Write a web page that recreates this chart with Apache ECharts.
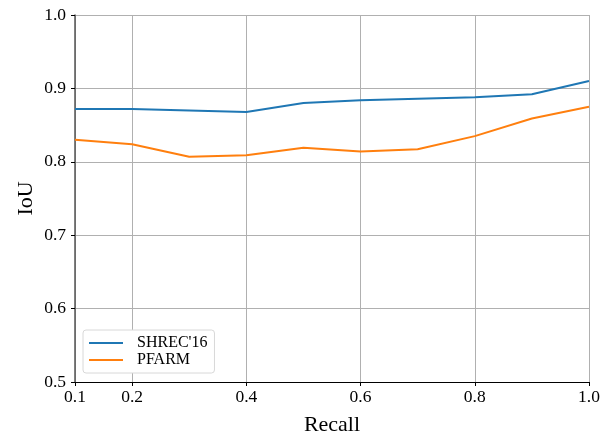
<!DOCTYPE html>
<html>
<head>
<meta charset="utf-8">
<script src="https://cdn.jsdelivr.net/npm/echarts@6/dist/echarts.min.js"></script>
<style>
  html, body { margin: 0; padding: 0; background: #fff; }
  #main { width: 614px; height: 438px; }
</style>
</head>
<body>
<div id="main"></div>
<script>
var recall = [0.1, 0.2, 0.3, 0.4, 0.5, 0.6, 0.7, 0.8, 0.9, 1.0];
var shrec = [0.872, 0.872, 0.870, 0.868, 0.880, 0.884, 0.886, 0.888, 0.892, 0.910];
var pfarm = [0.830, 0.824, 0.807, 0.809, 0.819, 0.814, 0.817, 0.835, 0.859, 0.875];
var xTicks = [0.1, 0.2, 0.4, 0.6, 0.8, 1.0];

function pairs(xs, ys) {
  var res = [];
  for (var i = 0; i < xs.length; i++) {
    res.push([xs[i], ys[i]]);
  }
  return res;
}

var font = "'Liberation Serif', 'Times New Roman', serif";
var myChart = echarts.init(document.getElementById("main"));
myChart.setOption({
  animation: false,
  textStyle: { fontFamily: font },
  grid: { left: 75, right: 25, top: 15, bottom: 56, outerBoundsMode: "none", containLabel: false },
  legend: {
    orient: "vertical",
    left: 83,
    top: 330,
    itemWidth: 34,
    itemHeight: 2,
    itemGap: 1,
    padding: [5, 7, 5, 6],
    backgroundColor: "#fff",
    borderColor: "#d8d8d8",
    borderWidth: 1,
    borderRadius: 3,
    textStyle: { fontFamily: font, fontSize: 16, color: "#000", padding: [0, 0, 0, 9] },
    data: [
      { name: "SHREC'16", icon: "rect" },
      { name: "PFARM", icon: "rect" }
    ]
  },
  xAxis: {
    type: "value",
    min: 0.1,
    max: 1.0,
    name: "Recall",
    nameLocation: "middle",
    nameGap: 32,
    nameTextStyle: { fontFamily: font, fontSize: 22, color: "#000" },
    axisLine: { lineStyle: { color: "#000", width: 1.2 } },
    axisTick: { customValues: xTicks, length: 4, inside: false, lineStyle: { color: "#000" } },
    axisLabel: {
      customValues: xTicks,
      fontFamily: font,
      fontSize: 17.5,
      color: "#000",
      margin: 6,
      formatter: function (v) { return v.toFixed(1); }
    },
    splitLine: { show: true, lineStyle: { color: "#b0b0b0", width: 1 } }
  },
  yAxis: {
    type: "value",
    min: 0.5,
    max: 1.0,
    interval: 0.1,
    name: "IoU",
    nameLocation: "middle",
    nameGap: 38,
    nameMoveOverlap: false,
    nameTextStyle: { fontFamily: font, fontSize: 22, color: "#000" },
    axisLine: { show: true, lineStyle: { color: "#555", width: 1.5 } },
    axisTick: { show: true, length: 4, lineStyle: { color: "#000" } },
    axisLabel: {
      fontFamily: font,
      fontSize: 17.5,
      color: "#000",
      margin: 9,
      formatter: function (v) { return v.toFixed(1); }
    },
    splitLine: { show: true, lineStyle: { color: "#b0b0b0", width: 1 } }
  },
  series: [
    {
      name: "SHREC'16",
      type: "line",
      data: pairs(recall, shrec),
      showSymbol: false,
      symbol: "none",
      lineStyle: { color: "#1f77b4", width: 2 },
      itemStyle: { color: "#1f77b4" }
    },
    {
      name: "PFARM",
      type: "line",
      data: pairs(recall, pfarm),
      showSymbol: false,
      symbol: "none",
      lineStyle: { color: "#ff7f0e", width: 2 },
      itemStyle: { color: "#ff7f0e" }
    }
  ]
});
</script>
</body>
</html>
